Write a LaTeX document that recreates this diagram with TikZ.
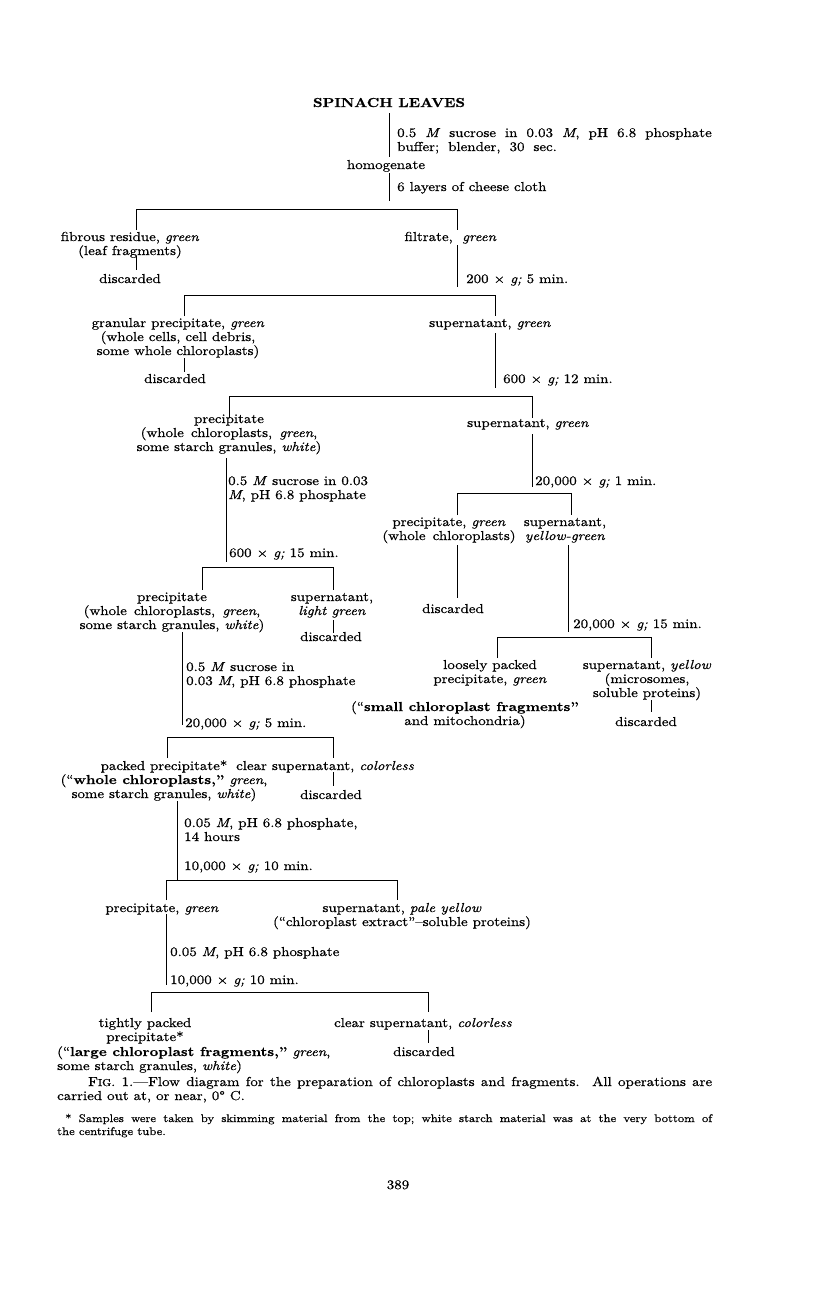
\documentclass[tikz,border=0pt]{standalone}
\usepackage{fontspec}
\setmainfont{lmroman10-regular.otf}[BoldFont=lmroman10-bold.otf, ItalicFont=lmroman10-italic.otf, BoldItalicFont=lmroman10-bolditalic.otf, FakeStretch=1.15, FakeBold=0.6]
\newcommand\dfont{\fontsize{13}{14}\selectfont}
\newcommand\capfont{\fontsize{13}{14}\selectfont}
\newcommand\fnfont{\fontsize{11}{13}\selectfont}
\newcommand\widesp{\spaceskip=9pt plus 1pt minus 1pt\relax}
\newcommand\myvline[4]{\coordinate (#1a) at (#2,#3); \coordinate (#1b) at (#2,#4); \draw[ln] (#1a) -- (#1b);}
\newcommand\mybracket[5]{\coordinate (#1l) at (#2,#5); \coordinate (#1tl) at (#2,#4); \coordinate (#1tr) at (#3,#4); \coordinate (#1r) at (#3,#5); \draw[ln] (#1l) -- (#1tl) -- (#1tr) -- (#1r);}
\tikzset{
 tc/.style={inner sep=0pt, font=\dfont, align=center, anchor=base},
 tl/.style={inner sep=0pt, font=\dfont, align=left, anchor=base west},
 ln/.style={line width=1pt, black},
}
\begin{document}
\begin{tikzpicture}[x=1pt,y=-1pt]
\useasboundingbox (0,0) rectangle (816,1294);
\fill[white] (0,0) rectangle (816,1294);

\node[tc, font=\dfont\bfseries] (spinach) at (389,107) {SPINACH LEAVES};
\myvline{v1}{389}{113}{157}
\node[tl, font=\dfont\widesp] (suc1) at (397,151) {0.5 \textit{M} sucrose in 0.03 \textit{M}, pH 6.8 phosphate\\buffer; blender, 30 sec.};
\node[tc] (homog) at (386,169) {homogenate};
\myvline{v2}{389}{173}{201}
\node[tl] (cheese) at (397,191) {6 layers of cheese cloth};

\mybracket{bA}{136}{457}{209}{230}
\node[tc] (fib) at (130,255) {fibrous residue, \textit{green}\\(leaf fragments)};
\myvline{v3}{136}{256}{270}
\node[tc] (disc1) at (130,283) {discarded};
\node[inner sep=0pt, font=\dfont, anchor=base east] (filt) at (453,241) {filtrate,};
\node[tl] (filtg) at (462,241) {\textit{green}};
\myvline{v4}{457}{245}{287}
\node[tl] (c200) at (466,283) {200 × \textit{g;} 5 min.};

\mybracket{bB}{184}{495}{295}{316}
\node[tc] (gran) at (178,355) {granular precipitate, \textit{green}\\(whole cells, cell debris,\\some whole chloroplasts)};
\myvline{v5}{184}{358}{372}
\node[tc] (disc2) at (175,383) {discarded};
\node[tc] (sup1) at (490,327) {supernatant, \textit{green}};
\myvline{v6}{495}{333}{388}
\node[tl] (c600a) at (503,383) {600 × \textit{g;} 12 min.};

\mybracket{bC}{229}{532}{396}{418}
\node[tc] (prec1) at (229,451) {precipitate\\(whole\, chloroplasts,\, \textit{green},\\some starch granules, \textit{white})};
\myvline{v7}{226}{458}{562}
\node[tl] (suc2) at (228,499) {0.5 \textit{M} sucrose in 0.03\\\textit{M}, pH 6.8 phosphate};
\node[tl] (c600b) at (229,557) {600 × \textit{g;} 15 min.};
\node[tc] (sup2) at (528,427) {supernatant, \textit{green}};
\myvline{v8}{532}{434}{487}
\node[tl] (c20a) at (535,485) {20,000 × \textit{g;} 1 min.};

\mybracket{bD}{457}{571}{493}{515}
\node[tc] (prec2) at (449,540) {precipitate, \textit{green}\\(whole\, chloroplasts)};
\node[tc] (sup3) at (565,540) {supernatant,\\\textit{yellow-green}};
\myvline{v9}{457}{545}{598}
\node[tc] (disc3) at (453,613) {discarded};
\myvline{v10}{568}{545}{632}
\node[tl] (c20b) at (573,628) {20,000 × \textit{g;} 15 min.};

\mybracket{bE}{202}{333}{567}{590}
\node[tc] (prec3) at (172,629) {precipitate\\(whole\, chloroplasts,\, \textit{green},\\some starch granules, \textit{white})};
\node[tc] (sup4) at (332,615) {supernatant,\\\textit{light green}};
\myvline{v11}{333}{620}{633}
\node[tc] (disc4) at (331,641) {discarded};
\myvline{v12}{182}{632}{725}
\node[tl] (suc3) at (186,685) {0.5 \textit{M} sucrose in\\0.03 \textit{M}, pH 6.8 phosphate};
\node[tl] (c20c) at (185,727) {20,000 × \textit{g;} 5 min.};

\mybracket{bI}{497}{651}{637}{658}
\node[tc] (loose) at (490,683) {loosely packed\\precipitate, \textit{green}};
\node[tc] (sup5) at (647,697) {supernatant, \textit{yellow}\\(microsomes,\\soluble proteins)};
\node[tc] (small) at (465,725) {(``\textbf{small chloroplast fragments''}\\and mitochondria)};
\myvline{v13}{651}{700}{712}
\node[tc] (disc5) at (646,726) {discarded};

\mybracket{bF}{167}{333}{737}{758}
\node[tc] (packed) at (164,798) {packed precipitate*\\(``\textbf{whole chloroplasts,''} \textit{green},\\some starch granules, \textit{white})};
\node[tl] (clear1) at (236,770) {clear supernatant, \textit{colorless}};
\myvline{v14}{333}{772}{786}
\node[tc] (disc6) at (331,799) {discarded};
\myvline{v15}{177}{801}{880}
\node[tl] (ph1) at (184,841) {0.05 \textit{M}, pH 6.8 phosphate,\\14 hours};
\node[tl] (c10a) at (184,870) {10,000 × \textit{g;} 10 min.};

\mybracket{bG}{166}{397}{880}{900}
\node[tc] (prec4) at (162,912) {precipitate, \textit{green}};
\node[tc] (sup6) at (402,926) {supernatant, \textit{pale yellow}\\(``chloroplast extract''--soluble proteins)};
\myvline{v16}{166}{914}{985}
\node[tl] (ph2) at (170,956) {0.05 \textit{M}, pH 6.8 phosphate};
\node[tl] (c10b) at (170,984) {10,000 × \textit{g;} 10 min.};

\mybracket{bH}{151}{428}{992}{1012}
\node[tc] (tight) at (145,1041) {tightly packed\\precipitate*};
\node[tl] (tightb) at (57,1070) {(``\textbf{large chloroplast fragments,''} \textit{green},\\some starch granules, \textit{white})};
\node[tc] (clear2) at (423,1027) {clear supernatant, \textit{colorless}};
\myvline{v17}{428}{1030}{1043}
\node[tc] (disc7) at (424,1056) {discarded};

\node[inner sep=0pt, anchor=base west, font=\capfont, align=left] (cap) at (57,1100)
 {\hspace*{31pt}\makebox[624pt][s]{F{\fontsize{10}{14}\selectfont IG}.~1.---Flow diagram for the preparation of chloroplasts and fragments.\ \ All operations are}\\carried out at, or near, 0°~C.};
\node[inner sep=0pt, anchor=base west, font=\fnfont, align=left] (fn) at (57,1135)
 {\hspace*{8pt}\makebox[647pt][s]{* Samples were taken by skimming material from the top;\ white starch material was at the very bottom of}\\the centrifuge tube.};
\node[tc] (page) at (398,1189) {389};
\end{tikzpicture}
\end{document}
